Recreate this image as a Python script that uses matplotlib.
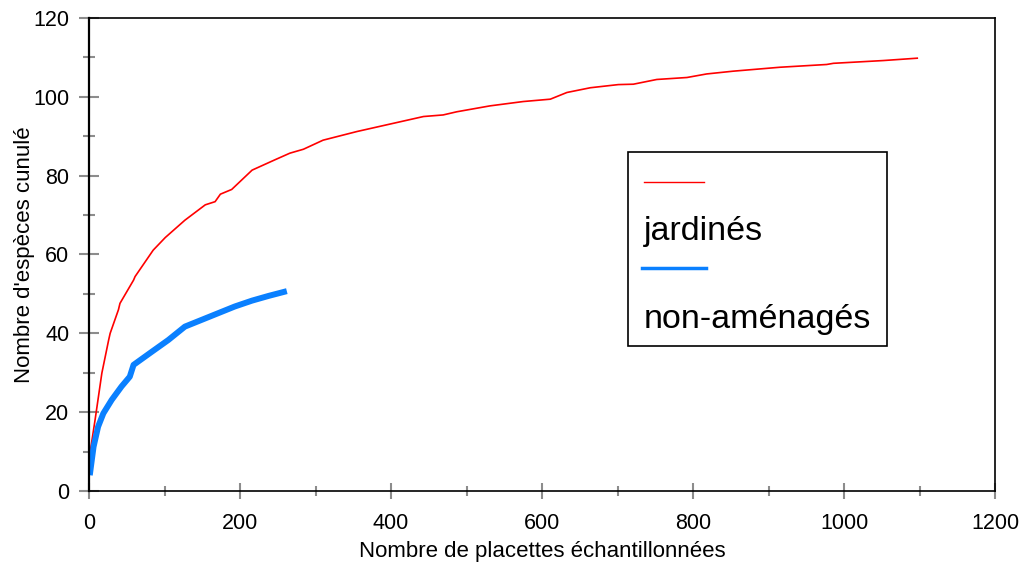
import matplotlib.pyplot as plt
from matplotlib.patches import Rectangle
from matplotlib.ticker import MultipleLocator

plt.rcParams['font.family'] = ['Liberation Sans', 'DejaVu Sans']

# Courbes d'accumulation des especes (lues point par point)
jard_x = [0, 8, 17, 26, 28, 39, 41, 59, 61, 85, 101, 127, 154, 167, 174, 189, 216, 246,
          266, 284, 310, 355, 399, 443, 469, 487, 531, 575, 611, 633, 664, 701, 721,
          752, 792, 818, 853, 915, 977, 986, 1052, 1097]
jard_y = [8, 18, 29.9, 38.3, 40, 46, 47.6, 53.5, 54.4, 61.1, 64.3, 68.7, 72.6, 73.4, 75.3,
          76.5, 81.4, 84, 85.7, 86.7, 89, 91.2, 93.1, 95, 95.4, 96.2, 97.7, 98.8, 99.4,
          101.1, 102.3, 103.1, 103.2, 104.4, 104.9, 105.8, 106.5, 107.5, 108.2, 108.5,
          109.2, 109.8]

nonam_x = [1, 6, 12, 19, 30, 43, 54, 59, 83, 105, 127, 149, 171, 193, 216, 238, 262]
nonam_y = [4, 11.2, 16.3, 19.7, 23.1, 26.5, 29, 32, 35.3, 38.3, 41.7, 43.4, 45.1, 46.8,
           48.3, 49.5, 50.7]

labels = ['jardinés', 'non-aménagés']
colors = ['#ff0000', '#0a80ff']

fig = plt.figure(figsize=(10.22, 5.69), dpi=100)
ax = fig.add_axes([0.0871, 0.1371, 0.8865, 0.8313])

ax.plot(jard_x, jard_y, color=colors[0], lw=1.2)
ax.plot(nonam_x, nonam_y, color=colors[1], lw=4.3, solid_capstyle='butt')

ax.set_xlim(0, 1200)
ax.set_ylim(0, 120)
ax.xaxis.set_major_locator(MultipleLocator(200))
ax.xaxis.set_minor_locator(MultipleLocator(100))
ax.yaxis.set_major_locator(MultipleLocator(20))
ax.yaxis.set_minor_locator(MultipleLocator(10))

ax.tick_params(axis='both', which='both', direction='inout', color='#8c8c8c',
               width=1.5, labelsize=15.5)
ax.tick_params(axis='y', which='major', length=14.4, pad=7)
ax.tick_params(axis='y', which='minor', length=8)
ax.tick_params(axis='x', which='major', length=11.5, pad=10)
ax.tick_params(axis='x', which='minor', length=7.2)

for sp in ax.spines.values():
    sp.set_color('black')
    sp.set_linewidth(1.2)
ax.spines['left'].set_linewidth(1.6)

ax.set_xlabel("Nombre de placettes échantillonnées", fontsize=16, labelpad=5)
ax.set_ylabel("Nombre d'espèces cunulé", fontsize=16, labelpad=-1)

# Legende dessinee a la main : trait au-dessus du libelle
ax.add_patch(Rectangle((0.595, 0.3066), 0.286, 0.4104, transform=ax.transAxes,
                       fill=False, edgecolor='black', lw=1.2, zorder=5))
ax.plot([0.6126, 0.6788], [0.653, 0.653], transform=ax.transAxes, color=colors[0], lw=1)
ax.text(0.6126, 0.5476, labels[0], transform=ax.transAxes, fontsize=24.5, va='center')
ax.plot([0.610, 0.681], [0.4715, 0.4715], transform=ax.transAxes, color=colors[1], lw=2.5)
ax.text(0.6126, 0.3615, labels[1], transform=ax.transAxes, fontsize=24.5, va='center')

fig.savefig('out.png', dpi=100)
